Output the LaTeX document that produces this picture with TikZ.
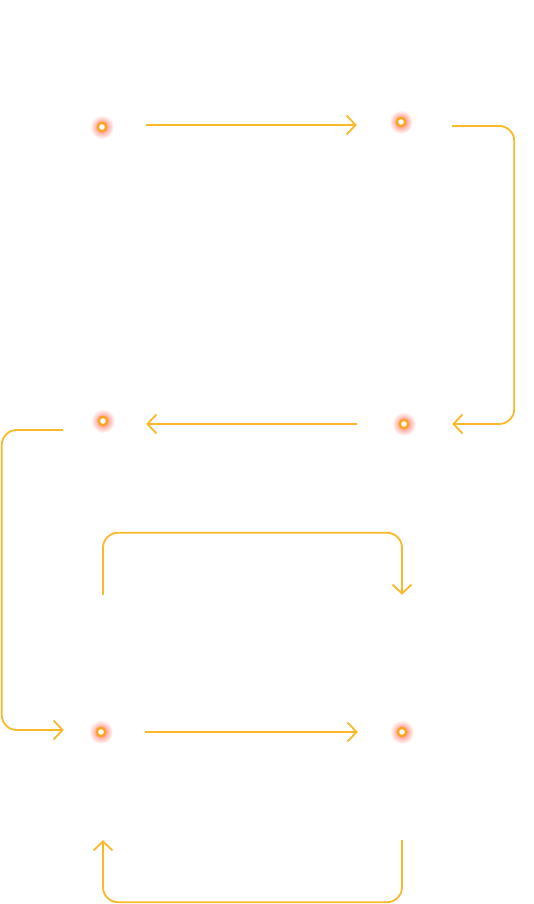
\documentclass[tikz,border=0pt]{standalone}
\usepackage{xcolor}
\usepackage{tikz}
\usetikzlibrary{arrows.meta, positioning, calc}

\definecolor{amber}{HTML}{FBB828}
\definecolor{glowred}{HTML}{FF6A5A}
\definecolor{ringorange}{HTML}{FFA21C}

\begin{document}
\begin{tikzpicture}[
          x=1pt, y=1pt,
          spot/.style={circle, minimum size=88pt, inner sep=0pt},
          flow/.style={draw=amber, line width=1.8pt, rounded corners=15pt,
            -{Straight Barb[length=9pt, width=19pt]}}
        ]
          \useasboundingbox (0,0) rectangle (534,904);

          \node[spot] (s1) at (102,777) {};
          \node[spot] (s2) at (401,782) {};
          \node[spot] (s3) at (103,483) {};
          \node[spot] (s4) at (404,480) {};
          \node[spot] (s5) at (101,172) {};
          \node[spot] (s6) at (402,172) {};

          % glowing dots
          \foreach \n in {s1,s2,s3,s4,s5,s6} {
            \shade[inner color=glowred, outer color=white] (\n) circle (12pt);
            \fill[ringorange] (\n) circle (5.5pt);
            \fill[white] (\n) circle (2.8pt);
          }

          \draw[flow] ([yshift=2pt]s1.east) -- ([yshift=2pt]s1.east -| s2.west);
          \draw[flow] ([shift={(7,-4)}]s2.east) -- ++(62,0) |- ([xshift=4pt]s4.east);
          \draw[flow] ([xshift=-3pt]s4.west) -- ([xshift=-1pt]s4.west -| s3.east);
          \draw[flow] ([shift={(4,-9)}]s3.west) -- ++(-61,0) |- ([shift={(7,2)}]s5.west);
          \draw[flow] ([shift={(2,93)}]s5.north) -- ++(0,62) -| ([yshift=93pt]s6.north);
          \draw[flow] ([yshift=-64pt]s6.south) -- ++(0,-62) -| ([shift={(2,-64)}]s5.south);
          \draw[flow] (s5.east) -- (s5.east -| s6.west);
        \end{tikzpicture}
\end{document}
